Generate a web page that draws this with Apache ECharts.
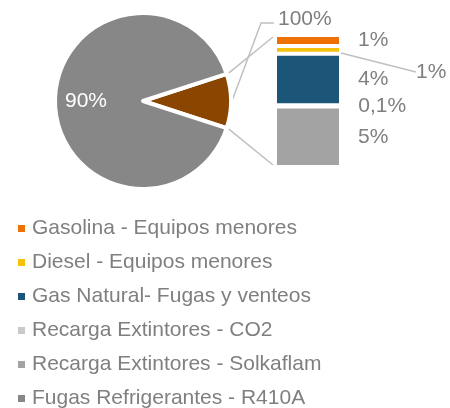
<!DOCTYPE html>
<html><head><meta charset="utf-8">
<script src="https://cdn.jsdelivr.net/npm/echarts@6/dist/echarts.min.js"></script>
<style>html,body{margin:0;padding:0;background:#fff}#c{width:450px;height:408px}</style>
</head><body><div id="c"></div>
<script>
// ---- data ----
const categories = ['Gasolina - Equipos menores', 'Diesel - Equipos menores', 'Gas Natural- Fugas y venteos',
  'Recarga Extintores - CO2', 'Recarga Extintores - Solkaflam', 'Fugas Refrigerantes - R410A'];
const barValues = [0.84, 0.58, 3.9, 0.1, 4.58];        // first five categories (stacked bar)
const barLabels = ['1%', '1%', '4%', '0,1%', '5%'];
const pieNames = ['Otros', 'Fugas Refrigerantes - R410A'];
const pieValues = [10, 90];
const pieLabels = ['100%', '90%'];
const barTotal = 10;

// ---- styles ----
const FONT = "'Liberation Sans', Arial, sans-serif";
const TXT = '#7f7f7f';
const LINE = '#c0c0c0';
const colors = ['#EE7203', '#F4C20D', '#1B5679', '#C9C9C9', '#A3A3A3', '#878787'];
const otherColor = '#8A4500';
const cx = 143, cy = 101, R = 88;
const gridLeft = 275, gridTop = 35, gridW = 66, gridH = 132;

const chart = echarts.init(document.getElementById('c'), null, {renderer: 'canvas'});

const barSeries = [4, 3, 2, 1, 0].map(i => {
  const s = {
    type: 'bar', name: categories[i], stack: 'otros', barWidth: '100%',
    data: [barValues[i]],
    itemStyle: {color: colors[i], borderColor: '#fff', borderWidth: 2},
    label: {show: true, position: 'right', distance: 17, formatter: barLabels[i],
      color: TXT, fontSize: 21, fontFamily: FONT}
  };
  if (i === 1) {
    s.labelLine = {show: true, lineStyle: {color: LINE, width: 1.5}};
    s.labelLayout = function (p) {
      const sx = p.rect.x + p.rect.width + 1, sy = p.rect.y + p.rect.height / 2;
      const mx = sx + 54, my = sy + 21, ex = mx + 12;
      return {x: ex + 8, y: my + 1, align: 'left', verticalAlign: 'middle',
        labelLinePoints: [[sx, sy], [mx, my], [ex, my]]};
    };
  }
  return s;
});

const pieData = pieNames.map((n, k) => ({
  name: n, value: pieValues[k],
  itemStyle: {color: k === 0 ? otherColor : colors[5]}
}));

const option = {
  animation: false,
  backgroundColor: '#fff',
  textStyle: {fontFamily: FONT},
  grid: {left: gridLeft, top: gridTop, width: gridW, height: gridH, containLabel: false},
  xAxis: {type: 'category', data: ['Otros'], show: false},
  yAxis: {type: 'value', min: 0, max: barTotal, show: false},
  legend: {
    orient: 'vertical', left: 18, top: 218, height: 260, padding: 0, itemWidth: 7, itemHeight: 7, itemGap: 13,
    icon: 'rect', selectedMode: false,
    itemStyle: {borderWidth: 0},
    textStyle: {color: TXT, fontSize: 21, fontFamily: FONT, lineHeight: 20, padding: [0, 0, 0, 2]},
    data: categories
  },
  series: [
    ...barSeries,
    {
      type: 'pie', name: 'main', center: [cx, cy], radius: R, startAngle: 18, clockwise: true,
      avoidLabelOverlap: false,
      itemStyle: {borderColor: '#fff', borderWidth: 4},
      data: pieData.map((d, k) => Object.assign({}, d, {
        label: k === 0 ? {show: true, position: 'outside', formatter: pieLabels[0], color: TXT, fontSize: 21, fontFamily: FONT}
                       : {show: false},
        labelLine: {show: k === 0, lineStyle: {color: LINE, width: 1.5}}
      })),
      labelLayout: function (p) {
        if (p.dataIndex !== 0) return {};
        const sx = cx + R + 1, sy = cy;
        const mx = sx + 29, my = sy - 78, ex = mx + 13;
        return {x: ex + 4, y: my - 4, align: 'left', verticalAlign: 'middle',
          labelLinePoints: [[sx, sy], [mx, my], [ex, my]]};
      },
      emphasis: {disabled: true}
    },
    {
      type: 'pie', name: 'labels', center: [cx, cy], radius: [20, R], startAngle: 18, clockwise: true,
      silent: true, z: 5,
      itemStyle: {color: 'transparent', borderWidth: 0},
      data: pieData.map((d, k) => ({
        name: d.name, value: d.value, itemStyle: {color: 'transparent'},
        label: k === 1 ? {show: true, position: 'inside', formatter: pieLabels[1], color: '#fff', fontSize: 21, fontFamily: FONT}
                       : {show: false},
        labelLine: {show: false}
      })),
      emphasis: {disabled: true}
    }
  ]
};
chart.setOption(option);

// connector lines from the pie's "Otros" slice to the stacked bar
const half = Math.PI * (pieValues[0] / (pieValues[0] + pieValues[1]));
const barTopY = chart.convertToPixel({yAxisIndex: 0}, barTotal);
const barBotY = chart.convertToPixel({yAxisIndex: 0}, 0);
const rr = R + 2;
chart.setOption({
  graphic: [
    {type: 'line', silent: true, shape: {x1: cx + rr * Math.cos(half), y1: cy - rr * Math.sin(half), x2: gridLeft - 2, y2: barTopY + 2},
      style: {stroke: LINE, lineWidth: 1.5}},
    {type: 'line', silent: true, shape: {x1: cx + rr * Math.cos(half), y1: cy + rr * Math.sin(half), x2: gridLeft - 2, y2: barBotY - 2},
      style: {stroke: LINE, lineWidth: 1.5}}
  ]
});
</script>
</body></html>
